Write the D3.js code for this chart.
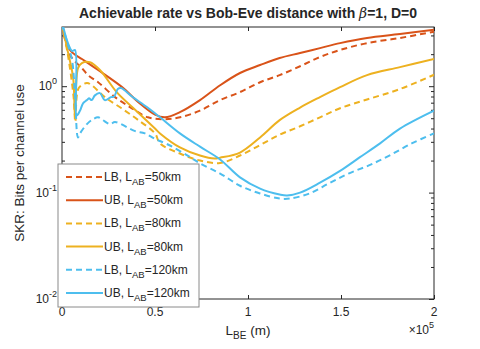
<!DOCTYPE html>
<html>
<head>
<meta charset="utf-8">
<script src="https://cdn.jsdelivr.net/npm/d3@7"></script>
<style>
  body { margin: 0; background: #fff; }
  text { font-family: "Liberation Sans", Arial, Helvetica, sans-serif; fill: #262626; }
</style>
</head>
<body>
<div id="chart"></div>
<script>
// Bob-Eve distance in km, SKR in bits per channel use
const lb50X = [0, 4.3, 10.7, 14, 19.4, 28.5, 37.6, 46.2, 55.4, 63.4, 74.2, 85, 95.7, 106.5, 117, 128, 138.7, 149.5, 164, 181.7, 200];
const lb50Y = [3.8, 1.96, 1.48, 1.27, 1.09, 0.79, 0.62, 0.51, 0.49, 0.51, 0.59, 0.74, 0.88, 1.09, 1.27, 1.54, 1.88, 2.19, 2.54, 2.84, 3.25];
const ub50X = [0, 4.3, 10.7, 14, 19.4, 32.3, 40.9, 50, 55.4, 63.4, 74.2, 85, 95.7, 106.5, 117, 128, 138.7, 149.5, 164, 181.7, 200];
const ub50Y = [3.8, 2.19, 1.8, 1.65, 1.42, 0.98, 0.71, 0.54, 0.51, 0.57, 0.74, 1.02, 1.33, 1.58, 1.84, 2.05, 2.28, 2.54, 2.84, 3.09, 3.4];
const lb80X = [0, 3.2, 6.2, 7.2, 9, 13.4, 16, 23, 32, 41, 50, 52.7, 63.4, 74.2, 85, 95.7, 106.5, 117, 128, 138.7, 149.5, 164, 181.7, 200];
const lb80Y = [3.8, 1.96, 0.8, 0.46, 0.96, 1.07, 1.02, 0.79, 0.62, 0.48, 0.36, 0.29, 0.233, 0.2, 0.19, 0.223, 0.28, 0.35, 0.42, 0.51, 0.62, 0.75, 0.94, 1.28];
const ub80X = [0, 3.2, 6, 7, 8.6, 10.7, 15, 20.4, 29.4, 38, 50, 52.7, 63.4, 74.2, 82, 85, 95.7, 106.5, 117, 128, 138.7, 149.5, 164, 181.7, 200];
const ub80Y = [3.8, 2.09, 1.2, 0.51, 1.48, 1.65, 1.68, 1.42, 0.88, 0.63, 0.4, 0.36, 0.266, 0.223, 0.209, 0.213, 0.238, 0.33, 0.48, 0.63, 0.79, 0.98, 1.27, 1.51, 1.8];
const lb120X = [0, 3.2, 5.4, 7, 8.6, 9.7, 13.4, 16.7, 19.4, 22, 25.8, 28.5, 39, 44.6, 50, 57.5, 68, 74.2, 85, 95.7, 106.5, 117, 122.6, 133, 143.5, 154, 165, 176, 188, 200];
const lb120Y = [3.8, 2.44, 1.76, 0.82, 0.33, 0.36, 0.44, 0.49, 0.51, 0.48, 0.44, 0.46, 0.38, 0.36, 0.32, 0.28, 0.22, 0.188, 0.151, 0.116, 0.098, 0.088, 0.088, 0.098, 0.122, 0.151, 0.18, 0.223, 0.29, 0.36];
const ub120X = [0, 3.2, 5.4, 7, 7.9, 9.7, 11.3, 13.4, 14.5, 16, 17.7, 20.4, 23, 26.3, 28, 30, 31.7, 37.6, 46, 52.7, 63.4, 74.2, 85, 95.7, 106.5, 117, 121, 128, 138.7, 149.5, 160, 171, 181.7, 200];
const ub120Y = [4.0, 2.54, 2.14, 2.19, 0.53, 0.59, 0.69, 0.74, 0.77, 0.74, 0.82, 0.86, 0.74, 0.79, 0.8, 0.94, 0.96, 0.8, 0.63, 0.51, 0.36, 0.27, 0.205, 0.139, 0.109, 0.096, 0.094, 0.1, 0.124, 0.16, 0.214, 0.29, 0.4, 0.59];

const seriesNames = ["LB", "UB", "LB", "UB", "LB", "UB"];
const seriesLab = ["50km", "50km", "80km", "80km", "120km", "120km"];
const seriesColors = ["#D95319", "#D95319", "#EDB120", "#EDB120", "#4DBEEE", "#4DBEEE"];
const seriesX = [lb50X, ub50X, lb80X, ub80X, lb120X, ub120X];
const seriesY = [lb50Y, ub50Y, lb80Y, ub80Y, lb120Y, ub120Y];

const xTicks = [0, 0.5e5, 1e5, 1.5e5, 2e5];
const xTickLabels = ["0", "0.5", "1", "1.5", "2"];
const yTicks = [0.01, 0.1, 1];
const yTickExp = ["-2", "-1", "0"];

const W = 480, H = 349;
const plot = { left: 62, right: 434, top: 27, bottom: 299 };

const svg = d3.select("#chart").append("svg")
  .attr("width", W)
  .attr("height", H);

const x = d3.scaleLinear().domain([0, 2e5]).range([plot.left, plot.right]);
const y = d3.scaleLog().domain([0.01, 3.6]).range([plot.bottom, plot.top]);

// minor ticks on the log axis
const minorTicks = [];
[0.01, 0.1, 1].forEach(d => {
  for (let k = 2; k <= 9; k++) if (d * k <= 3.6) minorTicks.push(d * k);
});

svg.append("defs").append("clipPath").attr("id", "clip")
  .append("rect")
  .attr("x", plot.left).attr("y", plot.top)
  .attr("width", plot.right - plot.left).attr("height", plot.bottom - plot.top);

// box
svg.append("rect")
  .attr("x", plot.left).attr("y", plot.top)
  .attr("width", plot.right - plot.left).attr("height", plot.bottom - plot.top)
  .attr("fill", "none").attr("stroke", "#262626").attr("stroke-width", 1);

function styleAxis(g) {
  g.select(".domain").remove();
  g.selectAll(".tick line").attr("stroke", "#262626");
  g.selectAll(".tick text").remove();
}

// x axes (bottom and top), ticks pointing inward
svg.append("g").attr("transform", `translate(0,${plot.bottom})`)
  .call(d3.axisBottom(x).tickValues(xTicks).tickSize(-4)).call(styleAxis);
svg.append("g").attr("transform", `translate(0,${plot.top})`)
  .call(d3.axisTop(x).tickValues(xTicks).tickSize(-4)).call(styleAxis);

// y axes (left and right), major + minor
svg.append("g").attr("transform", `translate(${plot.left},0)`)
  .call(d3.axisLeft(y).tickValues(yTicks).tickSize(-5)).call(styleAxis);
svg.append("g").attr("transform", `translate(${plot.left},0)`)
  .call(d3.axisLeft(y).tickValues(minorTicks).tickSize(-3)).call(styleAxis);
svg.append("g").attr("transform", `translate(${plot.right},0)`)
  .call(d3.axisRight(y).tickValues(yTicks).tickSize(-5)).call(styleAxis);
svg.append("g").attr("transform", `translate(${plot.right},0)`)
  .call(d3.axisRight(y).tickValues(minorTicks).tickSize(-3)).call(styleAxis);

// x tick labels
svg.append("g").selectAll("text")
  .data(xTicks)
  .join("text")
  .attr("x", d => x(d))
  .attr("y", plot.bottom + 17)
  .attr("text-anchor", "middle")
  .style("font-size", "12px")
  .text((d, i) => xTickLabels[i]);

// y tick labels as 10^k
const yLab = svg.append("g").selectAll("text")
  .data(yTicks)
  .join("text")
  .attr("x", plot.left - 5)
  .attr("y", d => y(d) + 4)
  .attr("text-anchor", "end")
  .style("font-size", "12px");
yLab.append("tspan").text("10");
yLab.append("tspan").attr("dy", -6).style("font-size", "9px").text((d, i) => yTickExp[i]);

// exponent label under x axis
const xExp = svg.append("text")
  .attr("x", plot.right)
  .attr("y", plot.bottom + 35)
  .attr("text-anchor", "end")
  .style("font-size", "12px");
xExp.append("tspan").text("×10");
xExp.append("tspan").attr("dy", -6).style("font-size", "9px").text("5");

// x label
const xLab = svg.append("text")
  .attr("x", (plot.left + plot.right) / 2)
  .attr("y", plot.bottom + 36)
  .attr("text-anchor", "middle")
  .style("font-size", "13.5px");
xLab.append("tspan").text("L");
xLab.append("tspan").attr("dy", 4).style("font-size", "10px").text("BE");
xLab.append("tspan").attr("dy", -4).text(" (m)");

// y label
svg.append("text")
  .attr("transform", `translate(24,${(plot.top + plot.bottom) / 2}) rotate(-90)`)
  .attr("text-anchor", "middle")
  .style("font-size", "13.5px")
  .text("SKR: Bits per channel use");

// title
const title = svg.append("text")
  .attr("x", (plot.left + plot.right) / 2)
  .attr("y", 18)
  .attr("text-anchor", "middle")
  .style("font-size", "14px")
  .style("font-weight", "bold");
title.append("tspan").text("Achievable rate vs Bob-Eve distance with ");
title.append("tspan").style("font-style", "italic").style("font-family", "DejaVu Serif, serif").style("font-weight", "normal").text("β");
title.append("tspan").text("=1, D=0");

// lines
const line = d3.line()
  .x(d => x(d[0] * 1000))
  .y(d => y(d[1]))
  .curve(d3.curveCatmullRom.alpha(0.5));

const lines = svg.append("g").attr("clip-path", "url(#clip)");
seriesX.forEach((xs, i) => {
  const pts = xs.map((v, j) => [v, seriesY[i][j]]);
  lines.append("path")
    .datum(pts)
    .attr("d", line)
    .attr("fill", "none")
    .attr("stroke", seriesColors[i])
    .attr("stroke-width", 2)
    .attr("stroke-dasharray", seriesNames[i] === "LB" ? "6,4" : null);
});

// legend
const leg = { x: 58, y: 164, w: 141, h: 143 };
const legend = svg.append("g");
legend.append("rect")
  .attr("x", leg.x).attr("y", leg.y)
  .attr("width", leg.w).attr("height", leg.h)
  .attr("fill", "#fff").attr("stroke", "#8a8a8a").attr("stroke-width", 1);

const items = legend.selectAll("g.item")
  .data(seriesNames)
  .join("g")
  .attr("class", "item")
  .attr("transform", (d, i) => `translate(0,${leg.y + 13 + i * 23.2})`);

items.append("line")
  .attr("x1", leg.x + 8).attr("x2", leg.x + 45)
  .attr("y1", 0).attr("y2", 0)
  .attr("stroke", (d, i) => seriesColors[i])
  .attr("stroke-width", 2)
  .attr("stroke-dasharray", d => d === "LB" ? "6,4" : null);

const itemText = items.append("text")
  .attr("x", leg.x + 46)
  .attr("y", 4)
  .style("font-size", "12px");
itemText.append("tspan").text(d => d + ", L");
itemText.append("tspan").attr("dy", 4).style("font-size", "9.5px").text("AB");
itemText.append("tspan").attr("dy", -4).text((d, i) => "=" + seriesLab[i]);
</script>
</body>
</html>
